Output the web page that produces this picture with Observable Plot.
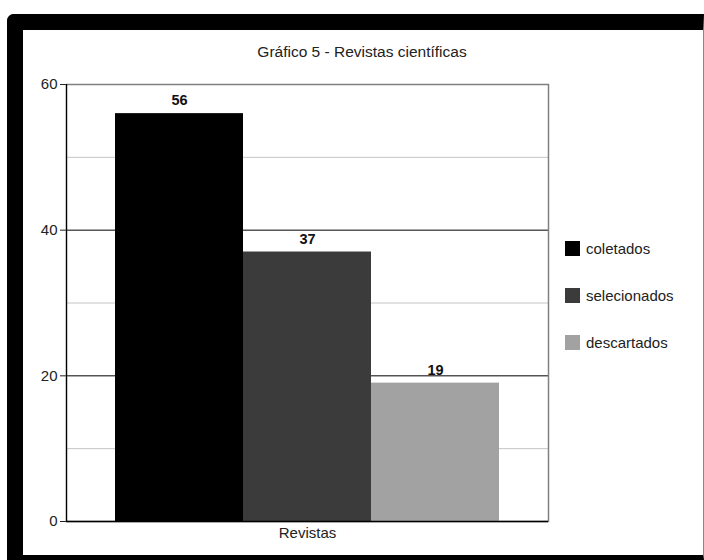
<!DOCTYPE html>
<html>
<head>
<meta charset="utf-8">
<script src="https://cdn.jsdelivr.net/npm/d3@7"></script>
<script src="https://cdn.jsdelivr.net/npm/@observablehq/plot@0.6"></script>
<style>
  html, body { margin: 0; padding: 0; background: #fff; }
  body { position: relative; width: 704px; height: 560px; overflow: hidden; font-family: "Liberation Sans", Arial, sans-serif; }
  #chart { position: absolute; left: 0; top: 0; }
  #border { position: absolute; left: 7px; top: 14px; width: 697px; height: 546px; box-sizing: border-box;
    border-left: 16px solid #000; border-top: 16px solid #000; border-bottom: 5px solid #000; border-right: 1px solid #888;
    border-top-left-radius: 7px; pointer-events: none; }
  #title { position: absolute; left: 22px; width: 680px; top: 43px; text-align: center; font-size: 15.5px; color: #222; }
  #legend { position: absolute; left: 565px; top: 241px; }
  .item { display: flex; align-items: center; height: 15px; margin-bottom: 32px; font-size: 15px; color: #222; }
  .sw { width: 15px; height: 15px; margin-right: 6px; }
</style>
</head>
<body>
<div id="chart"></div>
<div id="title">Gráfico 5 - Revistas científicas</div>
<div id="legend"></div>
<div id="border"></div>
<script>
const categories = ["Revistas"];
const series = ["coletados", "selecionados", "descartados"];
const values = [56, 37, 19];
const colors = ["#000000", "#3b3b3b", "#a2a2a2"];
const yTicks = [0, 20, 40, 60];
const minorGrid = [10, 30, 50];
const majorGrid = [20, 40];

const data = series.map((s, i) => ({category: categories[0], series: s, value: values[i]}));

const chart = Plot.plot({
  width: 704,
  height: 560,
  marginLeft: 66,
  marginRight: 156,
  marginTop: 84,
  marginBottom: 39,
  style: {fontSize: "15px", fontFamily: "Liberation Sans, Arial, sans-serif", background: "transparent", color: "#222"},
  fx: {domain: categories, padding: 0, label: null, tickSize: 0, tickPadding: 6},
  x: {domain: series, paddingInner: 0, paddingOuter: 0.38, axis: null},
  y: {domain: [0, 60], ticks: yTicks, tickSize: 6, tickPadding: 3, label: null},
  color: {domain: series, range: colors},
  marks: [
    Plot.ruleY(minorGrid, {stroke: "#c4c4c4", strokeWidth: 1}),
    Plot.ruleY(majorGrid, {stroke: "#000", strokeWidth: 1}),
    Plot.frame({stroke: "#808080", strokeWidth: 1.5}),
    Plot.barY(data, {fx: "category", x: "series", y: "value", fill: "series", inset: 0}),
    Plot.text(data, {fx: "category", x: "series", y: "value", text: d => String(d.value), dy: -13, fontWeight: "bold", fontSize: 14.5, fill: "#111"}),
    Plot.frame({anchor: "left", stroke: "#000", strokeWidth: 1.2}),
    Plot.ruleY([0], {stroke: "#000", strokeWidth: 1.5})
  ]
});
document.getElementById("chart").appendChild(chart);

const legend = d3.select("#legend");
series.forEach((s, i) => {
  const item = legend.append("div").attr("class", "item");
  item.append("div").attr("class", "sw").style("background", colors[i]);
  item.append("span").text(s);
});
</script>
</body>
</html>
